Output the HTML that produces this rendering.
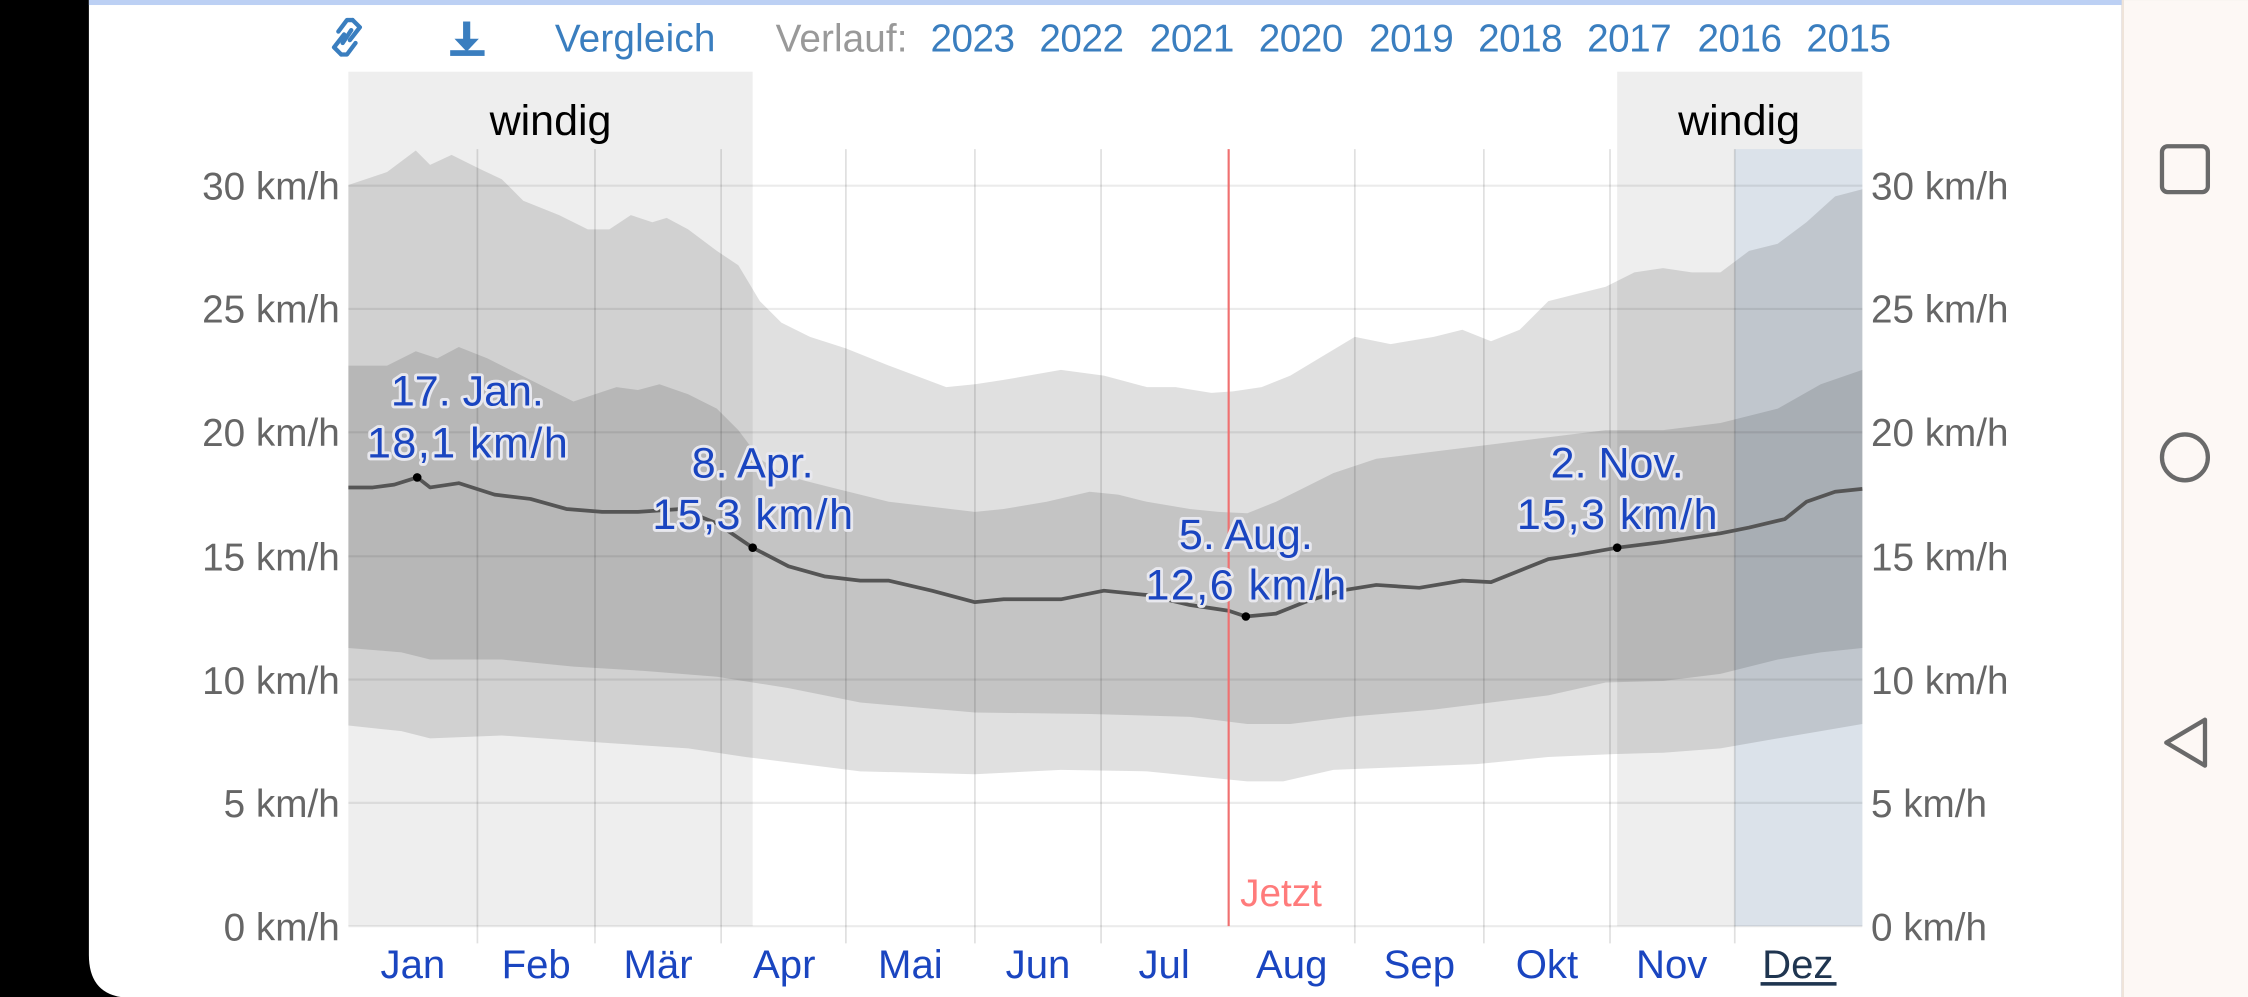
<!DOCTYPE html>
<html><head><meta charset="utf-8"><style>
html,body{margin:0;padding:0;background:#000;}
svg{display:block;}
text{font-family:"Liberation Sans",sans-serif;}
</style></head><body>
<svg width="2248" height="997" viewBox="0 0 1568 695.4" xmlns="http://www.w3.org/2000/svg">
<rect x="0" y="0" width="1568" height="696" fill="#000"/>
<path d="M62 0 H1480 V696 H92 Q62 696 62 666 Z" fill="#fff"/>
<rect x="62" y="0" width="1418" height="3.5" fill="#bcd0f4"/>
<rect x="1480" y="0" width="88" height="696" fill="#fdf8f5"/>
<rect x="1480" y="0" width="1.5" height="696" fill="#efe4da"/>
<rect x="1508" y="102" width="32" height="32" rx="4" fill="none" stroke="#6a6a6a" stroke-width="3"/>
<circle cx="1524" cy="319" r="16" fill="none" stroke="#6a6a6a" stroke-width="3"/>
<path d="M1538 502 L1538 534 L1511 518 Z" fill="none" stroke="#6a6a6a" stroke-width="3" stroke-linejoin="round"/>

<!-- top nav -->
<g fill="none" stroke="#3a7ebf" stroke-width="3" stroke-linejoin="round" stroke-linecap="round">
<path d="M246 14 l5 5 l-7 9 M238 38 l-5 -5 l7 -9"/>
<path d="M246 14 l-4 0 l-6 8 M238 38 l4 0 l6 -8"/>
<path d="M245 21 l-6 9"/>
</g>
<g fill="#3a7ebf">
<rect x="323" y="15" width="5" height="14"/>
<path d="M317 27 h17 l-8.5 9 z"/>
<rect x="314" y="35" width="24" height="4"/>
</g>
<text x="387" y="36" font-size="27" fill="#3a7ebf" textLength="112">Vergleich</text>
<text x="541" y="36" font-size="27" fill="#999" textLength="92">Verlauf:</text>
<g font-size="27" fill="#3a7ebf">
<text x="649" y="36" textLength="59">2023</text><text x="725" y="36" textLength="59">2022</text><text x="802" y="36" textLength="59">2021</text>
<text x="878" y="36" textLength="59">2020</text><text x="955" y="36" textLength="59">2019</text><text x="1031" y="36" textLength="59">2018</text>
<text x="1107" y="36" textLength="59">2017</text><text x="1184" y="36" textLength="59">2016</text><text x="1260" y="36" textLength="59">2015</text>
</g>

<rect x="243" y="50" width="282" height="596" fill="#eeeeee"/>
<rect x="1128" y="50" width="171" height="596" fill="#eeeeee"/>
<rect x="1210" y="104" width="89" height="542" fill="#dbe2ea"/>
<text x="384" y="94" font-size="30" fill="#000" text-anchor="middle">windig</text>
<text x="1213" y="94" font-size="30" fill="#000" text-anchor="middle">windig</text>

<g stroke="#000" stroke-opacity="0.08" stroke-width="1.5">
<line x1="243" x2="1299" y1="129.5" y2="129.5"/>
<line x1="243" x2="1299" y1="215.5" y2="215.5"/>
<line x1="243" x2="1299" y1="301.5" y2="301.5"/>
<line x1="243" x2="1299" y1="388" y2="388"/>
<line x1="243" x2="1299" y1="474" y2="474"/>
<line x1="243" x2="1299" y1="560" y2="560"/>
<line x1="243" x2="1299" y1="646" y2="646"/>
</g>

<path fill="#000" fill-opacity="0.12" d="M243 129 L270 120 L290 105 L300 115 L315 108 L335 118 L350 125 L365 140 L390 150 L410 160 L425 160 L440 150 L455 155 L465 152 L480 160 L500 175 L515 185 L530 210 L545 225 L565 235 L590 243 L620 255 L660 270 L680 268 L700 265 L740 258 L770 262 L800 270 L820 270 L845 274 L860 273 L880 270 L900 262 L920 250 L945 235 L970 240 L1000 235 L1020 230 L1040 238 L1060 230 L1080 210 L1100 205 L1120 200 L1140 190 L1160 187 L1180 190 L1200 190 L1220 175 L1240 170 L1260 155 L1280 137 L1299 132
L1299 505 L1270 510 L1240 515 L1200 522 L1160 525 L1125 526 L1080 528 L1030 533 L980 535 L930 537 L895 545 L870 545 L840 542 L800 538 L740 537 L680 540 L600 538 L560 533 L520 528 L480 522 L420 518 L350 513 L300 515 L280 510 L243 506 Z"/>
<path fill="#000" fill-opacity="0.12" d="M243 255 L270 255 L290 245 L305 250 L320 242 L340 250 L360 260 L380 270 L400 280 L415 275 L430 270 L445 272 L460 268 L480 275 L500 285 L515 300 L530 320 L545 330 L560 335 L580 340 L600 345 L620 350 L680 357 L700 355 L730 350 L760 343 L780 345 L800 350 L830 355 L850 357 L870 358 L890 350 L910 340 L930 330 L960 320 L1000 315 L1040 310 L1080 305 L1120 300 L1160 300 L1200 295 L1240 285 L1270 268 L1299 258
L1299 452 L1270 455 L1240 460 L1200 470 L1160 475 L1120 476 L1080 485 L1040 490 L1000 495 L940 500 L900 505 L870 505 L830 500 L760 498 L680 497 L600 490 L550 480 L500 472 L450 468 L400 465 L350 460 L300 460 L280 455 L243 452 Z"/>

<g stroke="#000" stroke-opacity="0.12" stroke-width="1.2">
<line x1="333" x2="333" y1="104" y2="658"/><line x1="415" x2="415" y1="104" y2="658"/>
<line x1="503" x2="503" y1="104" y2="658"/><line x1="590" x2="590" y1="104" y2="658"/>
<line x1="680" x2="680" y1="104" y2="658"/><line x1="768" x2="768" y1="104" y2="658"/>
<line x1="945" x2="945" y1="104" y2="658"/><line x1="1035" x2="1035" y1="104" y2="658"/>
<line x1="1123" x2="1123" y1="104" y2="658"/><line x1="1210" x2="1210" y1="104" y2="658"/>
</g>

<path fill="none" stroke="#555" stroke-width="2.6" stroke-linejoin="round" d="M243 340 L260 340 L275 338 L291 333 L300 340 L320 337 L345 345 L370 348 L395 355 L420 357 L445 357 L475 355 L500 365 L525 382 L550 395 L575 402 L600 405 L620 405 L650 412 L680 420 L700 418 L740 418 L770 412 L800 415 L830 422 L857 426 L869 430 L890 428 L910 420 L935 412 L960 408 L990 410 L1020 405 L1040 406 L1060 398 L1080 390 L1100 387 L1128 382 L1160 378 L1200 372 L1220 368 L1245 362 L1260 350 L1280 343 L1299 341"/>

<line x1="857" x2="857" y1="104" y2="646" stroke="#f07070" stroke-width="1.5"/>
<text x="865" y="632" font-size="27" fill="#ff7b7b">Jetzt</text>

<g fill="#000"><circle cx="291" cy="333" r="3"/><circle cx="525" cy="382" r="3"/><circle cx="869" cy="430" r="3"/><circle cx="1128" cy="382" r="3"/></g>

<g font-size="30" fill="#1a45c0" text-anchor="middle" stroke="#e8e8ee" stroke-width="4" paint-order="stroke" stroke-linejoin="round">
<text x="326" y="283">17. Jan.</text><text x="326" y="319" textLength="140">18,1 km/h</text>
<text x="525" y="333">8. Apr.</text><text x="525" y="369" textLength="140">15,3 km/h</text>
<text x="869" y="383">5. Aug.</text><text x="869" y="418" textLength="140">12,6 km/h</text>
<text x="1128" y="333">2. Nov.</text><text x="1128" y="369" textLength="140">15,3 km/h</text>
</g>

<g font-size="27" fill="#666" text-anchor="end">
<text x="237" y="139">30 km/h</text><text x="237" y="225">25 km/h</text><text x="237" y="311">20 km/h</text>
<text x="237" y="398">15 km/h</text><text x="237" y="484">10 km/h</text><text x="237" y="570">5 km/h</text><text x="237" y="656">0 km/h</text>
</g>
<g font-size="27" fill="#666">
<text x="1305" y="139">30 km/h</text><text x="1305" y="225">25 km/h</text><text x="1305" y="311">20 km/h</text>
<text x="1305" y="398">15 km/h</text><text x="1305" y="484">10 km/h</text><text x="1305" y="570">5 km/h</text><text x="1305" y="656">0 km/h</text>
</g>

<g font-size="28" fill="#1a45c0" text-anchor="middle">
<text x="288" y="682">Jan</text><text x="374" y="682">Feb</text><text x="459" y="682">Mär</text>
<text x="547" y="682">Apr</text><text x="635" y="682">Mai</text><text x="724" y="682">Jun</text>
<text x="812" y="682">Jul</text><text x="901" y="682">Aug</text><text x="990" y="682">Sep</text>
<text x="1079" y="682">Okt</text><text x="1166" y="682">Nov</text>
<text x="1254" y="682" fill="#1f3550">Dez</text>
</g>
<rect x="1228" y="685" width="53" height="2.5" fill="#1f3550"/>
</svg>
</body></html>
